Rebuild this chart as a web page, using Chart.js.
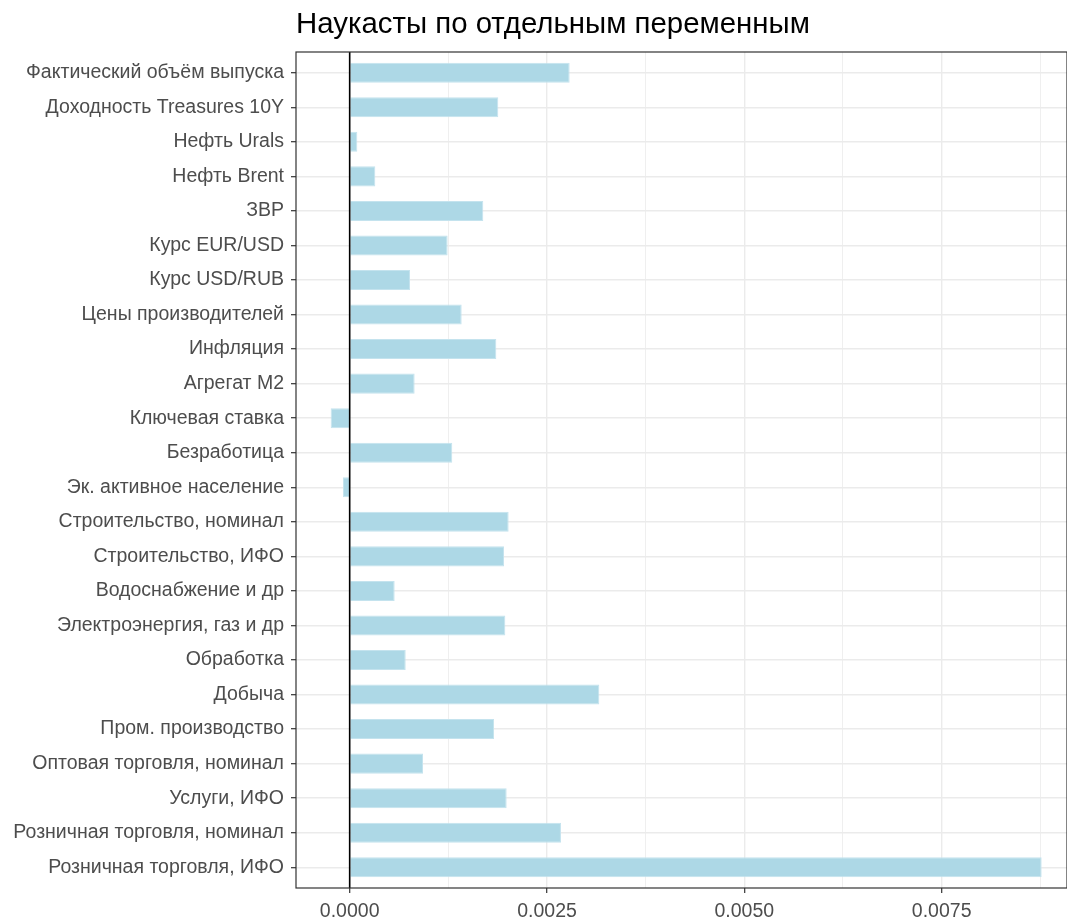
<!DOCTYPE html>
<html>
<head>
<meta charset="utf-8">
<script src="https://cdn.jsdelivr.net/npm/chart.js@4"></script>
<style>
  html, body { margin: 0; padding: 0; background: #fff; }
  #wrap { width: 1067px; height: 917px; }
</style>
</head>
<body>
<div id="wrap"><canvas id="myChart"></canvas></div>
<script>
// categories, top to bottom
const categories = [
  "Фактический объём выпуска",
  "Доходность Treasures 10Y",
  "Нефть Urals",
  "Нефть Brent",
  "ЗВР",
  "Курс EUR/USD",
  "Курс USD/RUB",
  "Цены производителей",
  "Инфляция",
  "Агрегат M2",
  "Ключевая ставка",
  "Безработица",
  "Эк. активное население",
  "Строительство, номинал",
  "Строительство, ИФО",
  "Водоснабжение и др",
  "Электроэнергия, газ и др",
  "Обработка",
  "Добыча",
  "Пром. производство",
  "Оптовая торговля, номинал",
  "Услуги, ИФО",
  "Розничная торговля, номинал",
  "Розничная торговля, ИФО"
];

const values = [
  0.002787, 0.001883, 0.000097, 0.000325, 0.001693, 0.001241,
  0.000764, 0.001419, 0.001858, 0.000823, -0.000241, 0.001300,
  -0.000085, 0.002014, 0.001955, 0.000570, 0.001972, 0.000710,
  0.003163, 0.001829, 0.000929, 0.001989, 0.002677, 0.008767
];

const xMin = -0.00068;
const xMax = 0.009088;
const minorStep = 0.00125;
const majorStep = 0.0025;

const title = "Наукасты по отдельным переменным";

function isMajor(v) {
  const r = v / majorStep;
  return Math.abs(r - Math.round(r)) < 1e-6;
}

const fontFamily = '"Liberation Sans", Arial, sans-serif';

// panel border, zero line and title
const panelPlugin = {
  id: 'panel',
  afterDatasetsDraw(chart) {
    const { ctx, chartArea } = chart;
    const x0 = chart.scales.x.getPixelForValue(0);
    ctx.save();
    ctx.strokeStyle = '#000';
    ctx.lineWidth = 1.6;
    ctx.beginPath();
    ctx.moveTo(x0, chartArea.top);
    ctx.lineTo(x0, chartArea.bottom);
    ctx.stroke();
    ctx.strokeStyle = '#333333';
    ctx.lineWidth = 1.2;
    ctx.strokeRect(chartArea.left, chartArea.top, chartArea.right - chartArea.left, chartArea.bottom - chartArea.top);
    ctx.fillStyle = '#000';
    ctx.font = '29.4px ' + fontFamily;
    ctx.textBaseline = 'alphabetic';
    ctx.textAlign = 'left';
    ctx.fillText(title, chartArea.left, 33);
    ctx.restore();
  }
};

var ctx = document.getElementById('myChart').getContext('2d');
var chart = new Chart(ctx, {
  type: 'bar',
  data: {
    labels: categories,
    datasets: [{
      data: values,
      backgroundColor: '#add8e6',
      borderColor: '#c4e3ee',
      borderWidth: 1,
      barPercentage: 0.58,
      categoryPercentage: 1
    }]
  },
  options: {
    indexAxis: 'y',
    responsive: true,
    maintainAspectRatio: false,
    animation: false,
    layout: { padding: { top: 52, right: 0, left: 0, bottom: 0 } },
    plugins: {
      legend: { display: false },
      tooltip: { enabled: false },
      title: { display: false }
    },
    scales: {
      x: {
        type: 'linear',
        min: xMin,
        max: xMax,
        border: { display: false },
        afterFit(scale) { scale.height = 29; },
        ticks: {
          stepSize: minorStep,
          includeBounds: false,
          autoSkip: false,
          maxRotation: 0,
          color: '#4d4d4d',
          padding: 7,
          font: { family: fontFamily, size: 19.5 },
          callback(v) { return isMajor(v) ? v.toFixed(4) : ''; }
        },
        grid: {
          color: '#ebebeb',
          lineWidth: (c) => (c.tick && isMajor(c.tick.value)) ? 1.4 : 0.8,
          tickLength: 5,
          tickColor: (c) => (c.tick && isMajor(c.tick.value)) ? '#333333' : 'rgba(0,0,0,0)',
          tickWidth: 1.2
        }
      },
      y: {
        type: 'category',
        border: { display: false },
        afterFit(scale) { scale.width = 296; },
        // ggplot-style discrete padding: 0.6 of a category at each end
        afterBuildTicks(scale) {
          scale._startValue = -0.6;
          scale._valueRange = categories.length - 1 + 1.2;
        },
        ticks: {
          color: '#4d4d4d',
          padding: 7,
          autoSkip: false,
          font: { family: fontFamily, size: 19.5 }
        },
        grid: {
          offset: false,
          color: '#ebebeb',
          lineWidth: 1.4,
          tickLength: 5,
          tickColor: '#333333',
          tickWidth: 1.2
        }
      }
    }
  },
  plugins: [panelPlugin]
});
</script>
</body>
</html>
